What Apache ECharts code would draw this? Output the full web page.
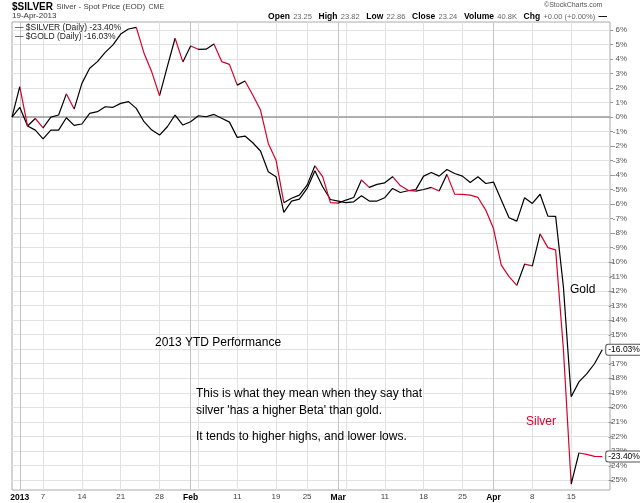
<!DOCTYPE html>
<html lang="en">
<head>
<meta charset="UTF-8">
<title>$SILVER vs $GOLD - 2013 YTD</title>
<script src="https://cdn.jsdelivr.net/npm/echarts@6/dist/echarts.min.js"></script>
<style>
  html, body { margin: 0; padding: 0; background: #fff; }
  #chart { width: 640px; height: 503px; }
</style>
</head>
<body>
<div id="chart"></div>
<script>
// trading days, Dec 31 2012 is the 0% base
const dates = [
  '12-31', '01-02', '01-03', '01-04', '01-07', '01-08', '01-09', '01-10', '01-11',
  '01-14', '01-15', '01-16', '01-17', '01-18', '01-21', '01-22', '01-23', '01-24', '01-25',
  '01-28', '01-29', '01-30', '01-31', '02-01', '02-04', '02-05', '02-06', '02-07', '02-08',
  '02-11', '02-12', '02-13', '02-14', '02-15', '02-19', '02-20', '02-21', '02-22',
  '02-25', '02-26', '02-27', '02-28', '03-01', '03-04', '03-05', '03-06', '03-07', '03-08',
  '03-11', '03-12', '03-13', '03-14', '03-15', '03-18', '03-19', '03-20', '03-21', '03-22',
  '03-25', '03-26', '03-27', '03-28', '04-01', '04-02', '04-03', '04-04', '04-05',
  '04-08', '04-09', '04-10', '04-11', '04-12', '04-15', '04-16', '04-17', '04-18', '04-19'
];

// % change since Dec 31
const silverPct = [
  0, 2.09, -0.62, -0.1, -0.74, 0.0, 0.14, 1.6, 0.55,
  2.32, 3.36, 3.82, 4.46, 4.97, 5.72, 6.07, 6.18, 4.4, 3.1,
  1.47, 3.47, 5.43, 3.8, 4.9, 4.67, 4.68, 5.03, 3.82, 3.63,
  2.2, 2.48, 1.52, 0.48, -1.82, -2.97, -5.9, -5.6, -5.38,
  -4.69, -3.36, -4.11, -5.9, -5.93, -5.72, -5.54, -4.34, -4.85, -4.64,
  -4.53, -4.11, -4.72, -5.05, -5.1, -4.99, -4.85, -5.1, -3.95, -5.31,
  -5.33, -5.38, -5.54, -6.41, -7.68, -10.2, -11.0, -11.6, -10.14,
  -10.25, -8.05, -9.0, -9.15, -16.0, -25.3, -23.15, -23.25, -23.38, -23.40
];

const goldPct = [
  0, 0.67, -0.62, -0.9, -1.5, -0.9, -0.9, -0.05, -0.57,
  -0.48, 0.25, 0.37, 0.71, 0.67, 0.94, 1.06, 0.6, -0.32, -0.9,
  -1.24, -0.67, 0.14, -0.55, -0.32, 0.09, 0.02, 0.18, -0.08, -0.35,
  -1.4, -1.31, -1.77, -2.34, -3.77, -4.11, -6.57, -5.79, -5.66,
  -4.92, -3.7, -4.8, -5.68, -5.79, -5.9, -5.84, -5.43, -5.79, -5.79,
  -5.56, -4.92, -5.2, -5.08, -5.0, -4.07, -3.82, -4.07, -3.61, -3.89,
  -4.07, -4.51, -4.11, -4.58, -4.48, -5.72, -6.94, -7.17, -5.56,
  -5.95, -5.32, -6.83, -6.84, -11.7, -19.27, -18.25, -17.7, -17.0, -16.03
];

const tickDates  = ['01-02', '01-07', '01-14', '01-21', '01-28', '02-01', '02-11', '02-19', '02-25',
                    '03-01', '03-11', '03-18', '03-25', '04-01', '04-08', '04-15'];
const tickLabels = ['2013', '7', '14', '21', '28', 'Feb', '11', '19', '25',
                    'Mar', '11', '18', '25', 'Apr', '8', '15'];
const weekLineDates = ['01-07', '01-14', '01-21', '01-28', '02-04', '02-11', '02-19', '02-25',
                       '03-04', '03-11', '03-18', '03-25', '04-08', '04-15'];
const monthDates = ['01-02', '02-01', '03-01', '04-01'];
const yTicks = [-25, -24, -23, -22, -21, -20, -19, -18, -17, -16, -15, -14, -13, -12, -11,
                -10, -9, -8, -7, -6, -5, -4, -3, -2, -1, 0, 1, 2, 3, 4, 5, 6];

const RED = '#d6002a';
const BLACK = '#000';
const FONT = '"Liberation Sans", Arial, sans-serif';

// one empty slot after the last day so the frame runs a bit past it
const categories = dates.concat(['']);

// silver is drawn red on down days, black on up days
const silverPieces = [];
for (let i = 1; i < silverPct.length; i++) {
    silverPieces.push({
        gte: i - 1,
        lt: i,
        color: silverPct[i] < silverPct[i - 1] ? RED : BLACK
    });
}

let myChart = echarts.init(document.getElementById('chart'));

function note(left, top, text, size, color, lineHeight) {
    return {
        type: 'text', left: left, top: top, z: 100,
        style: { text: text, fontSize: size, fill: color, fontFamily: FONT, lineHeight: lineHeight || size + 2 }
    };
}

let option = {
    animation: false,
    backgroundColor: '#fff',
    textStyle: { fontFamily: FONT },
    grid: {
        left: 12, top: 22, width: 598, height: 468,
        show: true, borderColor: '#aaa', borderWidth: 1,
        containLabel: false, outerBoundsMode: 'none'
    },
    visualMap: {
        show: false,
        type: 'piecewise',
        seriesIndex: 1,
        dimension: 0,
        pieces: silverPieces,
        outOfRange: { color: BLACK }
    },
    xAxis: {
        type: 'category',
        data: categories,
        boundaryGap: false,
        axisLine: { show: false },
        axisTick: { show: false },
        axisLabel: {
            interval: function (i, v) { return tickDates.indexOf(v) >= 0; },
            showMinLabel: true,
            showMaxLabel: true,
            hideOverlap: false,
            formatter: function (v) {
                let k = tickDates.indexOf(v);
                if (k < 0) return '';
                let t = tickLabels[k];
                return monthDates.indexOf(v) >= 0 ? '{m|' + t + '}' : t;
            },
            rich: { m: { fontWeight: 'bold', fontSize: 8.5, color: '#000', fontFamily: FONT } },
            fontSize: 8, color: '#444', margin: 3, fontFamily: FONT
        },
        splitLine: {
            show: true,
            interval: function (i, v) { return weekLineDates.indexOf(v) >= 0; },
            lineStyle: { color: '#e2e2e2', width: 1 }
        }
    },
    yAxis: {
        type: 'value',
        position: 'right',
        min: -25.7,
        max: 6.55,
        axisLine: { show: false },
        axisTick: { show: true, length: 3, customValues: yTicks, lineStyle: { color: '#999' } },
        axisLabel: {
            customValues: yTicks,
            formatter: function (v) { return v + '%'; },
            align: 'right', margin: 17,
            fontSize: 8, color: '#555', fontFamily: FONT
        },
        splitLine: { show: true, lineStyle: { color: '#e2e2e2', width: 1 } }
    },
    series: [
        {
            name: '$GOLD',
            type: 'line',
            data: goldPct,
            symbol: 'none',
            color: BLACK,
            lineStyle: { color: BLACK, width: 1.2 },
            z: 3,
            endLabel: {
                show: true,
                formatter: function (p) { return p.value.toFixed(2) + '%'; },
                distance: 4,
                color: '#000', fontSize: 8.5, fontFamily: FONT,
                backgroundColor: '#fff', borderColor: '#555', borderWidth: 1,
                borderRadius: 2, padding: [1, 1, 0, 2]
            },
            markLine: {
                silent: true,
                symbol: 'none',
                z: 1,
                label: { show: false },
                data: [
                    { yAxis: 0, lineStyle: { color: '#999', width: 1.5, type: 'solid' } }
                ].concat(monthDates.map(function (d) {
                    return { xAxis: d, lineStyle: { color: '#c4c4c4', width: 1, type: 'solid' } };
                }))
            }
        },
        {
            name: '$SILVER',
            type: 'line',
            data: silverPct,
            symbol: 'none',
            lineStyle: { width: 1.2 },
            z: 4,
            endLabel: {
                show: true,
                formatter: function (p) { return p.value.toFixed(2) + '%'; },
                distance: 4,
                color: '#000', fontSize: 8.5, fontFamily: FONT,
                backgroundColor: '#fff', borderColor: '#555', borderWidth: 1,
                borderRadius: 2, padding: [1, 1, 0, 2]
            }
        }
    ],
    graphic: [
        {
            type: 'text', left: 12, top: 1, z: 100,
            style: {
                text: '{a|$SILVER} {b|Silver - Spot Price (EOD)} {c|CME}',
                rich: {
                    a: { fontSize: 10, fontWeight: 'bold', fill: '#000', fontFamily: FONT },
                    b: { fontSize: 8, fill: '#444', fontFamily: FONT },
                    c: { fontSize: 7, fill: '#444', fontFamily: FONT }
                }
            }
        },
        note(12, 11, '19-Apr-2013', 8, '#333', 9),
        note(544, 1, '\u00a9StockCharts.com', 7, '#555', 8),
        {
            type: 'text', right: 33, top: 11, z: 100,
            style: {
                text: '{b|Open} {n|23.25}  {b|High} {n|23.82}  {b|Low} {n|22.86}  {b|Close} {n|23.24}  ' +
                      '{b|Volume} {n|40.8K}  {b|Chg} {n|+0.00 (+0.00%)} {b|\u2014}',
                rich: {
                    b: { fontSize: 8.5, fontWeight: 'bold', fill: '#000', fontFamily: FONT },
                    n: { fontSize: 7.5, fill: '#666', fontFamily: FONT }
                }
            }
        },
        {
            type: 'text', left: 15, top: 23, z: 100,
            style: {
                text: '\u2014 $SILVER (Daily) -23.40%\n\u2014 $GOLD (Daily) -16.03%',
                fontSize: 8.5, lineHeight: 9, fill: '#222', fontFamily: FONT
            }
        },
        note(155, 336, '2013 YTD Performance', 12, '#000', 14),
        note(196, 385, 'This is what they mean when they say that\nsilver \'has a higher Beta\' than gold.', 12, '#000', 17),
        note(196, 430, 'It tends to higher highs, and lower lows.', 12, '#000', 14),
        note(570, 283, 'Gold', 12, '#000', 14),
        note(526, 415, 'Silver', 12, RED, 14)
    ]
};

myChart.setOption(option);
</script>
</body>
</html>
